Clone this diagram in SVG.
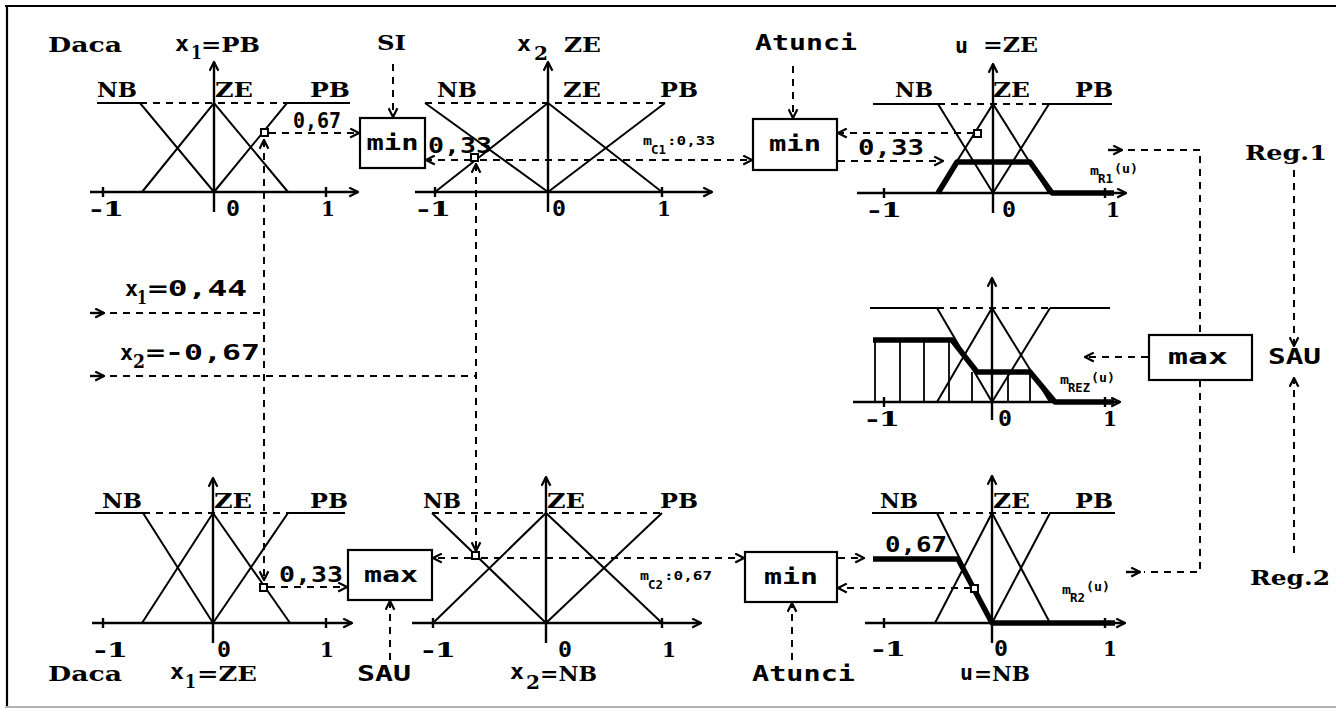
<svg xmlns="http://www.w3.org/2000/svg" width="1341" height="709" viewBox="0 0 1341 709">
  <style>
    .ax { stroke: #000; stroke-width: 2.4; fill: none; }
    .mf { stroke: #000; stroke-width: 2; fill: none; }
    .dl { stroke: #000; stroke-width: 2; stroke-dasharray: 7 6; fill: none; }
    .th { stroke: #000; stroke-width: 5.5; fill: none; stroke-linejoin: round; }
    .hat { stroke: #000; stroke-width: 1.8; }
    .box { fill: #fff; stroke: #000; stroke-width: 2.2; }
    .pt { fill: #fff; stroke: #000; stroke-width: 2; }
    .ser { font-family: "DejaVu Serif", "Liberation Serif", serif; font-weight: bold; font-size: 21px; fill: #000; }
    .san { font-family: "DejaVu Sans Mono", "DejaVu Sans", monospace; font-weight: bold; font-size: 21px; fill: #000; }
    .sm { font-family: "DejaVu Sans Mono", monospace; font-weight: bold; font-size: 12px; fill: #000; }
    .sub { font-family: "DejaVu Serif", serif; font-weight: bold; font-size: 18px; fill: #000; }
  </style>
  <defs>
    <marker id="ah" viewBox="0 0 10 10" refX="9" refY="5" markerWidth="11" markerHeight="11" markerUnits="userSpaceOnUse" orient="auto-start-reverse">
      <path d="M1,1 L9,5 L1,9" fill="none" stroke="#000" stroke-width="2"/>
    </marker>
  </defs>

  <!-- frame -->
  <g id="frame">
    <line x1="5" y1="6" x2="1336" y2="6" stroke="#000" stroke-width="2.2"/>
    <line x1="7" y1="5" x2="7" y2="706" stroke="#000" stroke-width="2.2"/>
    <line x1="5" y1="707" x2="1336" y2="707" stroke="#999" stroke-width="1.5"/>
  </g>

  <!-- rule 1, x1 = PB -->
  <g id="chart-x1-pb">
    <line class="ax" x1="90" y1="192" x2="358" y2="192" marker-end="url(#ah)"/>
    <line class="ax" x1="214" y1="212" x2="214" y2="62" marker-end="url(#ah)"/>
    <line class="ax" x1="103" y1="187" x2="103" y2="197"/>
    <line class="ax" x1="326" y1="187" x2="326" y2="197"/>
    <polyline class="mf" points="97,103 140,103 214,192"/>
    <polyline class="mf" points="142,192 214,103 288,192"/>
    <polyline class="mf" points="214,192 287,103 350,103"/>
    <line class="dl" x1="140" y1="103" x2="287" y2="103"/>
    <rect class="pt" x="261" y="129" width="7" height="7"/>
    <text class="ser" x="97" y="97" textLength="40" lengthAdjust="spacingAndGlyphs">NB</text>
    <text class="ser" x="215" y="97" textLength="38" lengthAdjust="spacingAndGlyphs">ZE</text>
    <text class="ser" x="310" y="97" textLength="40" lengthAdjust="spacingAndGlyphs">PB</text>
    <text class="ser" x="90" y="216" textLength="34" lengthAdjust="spacingAndGlyphs">-1</text>
    <text class="san" x="226" y="216" textLength="14" lengthAdjust="spacingAndGlyphs">0</text>
    <text class="ser" x="321" y="216" textLength="14" lengthAdjust="spacingAndGlyphs">1</text>
    <text class="ser" x="48" y="52" textLength="74" lengthAdjust="spacingAndGlyphs">Daca</text>
    <text class="san" x="175" y="51" textLength="14" lengthAdjust="spacingAndGlyphs">x</text>
    <text class="sub" x="191" y="59" textLength="11" lengthAdjust="spacingAndGlyphs">1</text>
    <text class="ser" x="201" y="52" textLength="59" lengthAdjust="spacingAndGlyphs">=PB</text>
    <text class="san" x="293" y="128" textLength="48" lengthAdjust="spacingAndGlyphs">0,67</text>
  </g>

  <!-- rule 1, x2 = ZE -->
  <g id="chart-x2-ze">
    <line class="ax" x1="415" y1="192" x2="712" y2="192" marker-end="url(#ah)"/>
    <line class="ax" x1="548" y1="212" x2="548" y2="62" marker-end="url(#ah)"/>
    <line class="ax" x1="435" y1="187" x2="435" y2="197"/>
    <line class="ax" x1="662" y1="187" x2="662" y2="197"/>
    <polyline class="mf" points="425,103 548,192"/>
    <polyline class="mf" points="435,192 548,103 662,192"/>
    <polyline class="mf" points="548,192 665,103"/>
    <line class="dl" x1="425" y1="103" x2="665" y2="103"/>
    <rect class="pt" x="471" y="154" width="7" height="7"/>
    <text class="ser" x="437" y="97" textLength="40" lengthAdjust="spacingAndGlyphs">NB</text>
    <text class="ser" x="563" y="97" textLength="38" lengthAdjust="spacingAndGlyphs">ZE</text>
    <text class="ser" x="660" y="97" textLength="38" lengthAdjust="spacingAndGlyphs">PB</text>
    <text class="ser" x="417" y="216" textLength="34" lengthAdjust="spacingAndGlyphs">-1</text>
    <text class="san" x="552" y="216" textLength="14" lengthAdjust="spacingAndGlyphs">0</text>
    <text class="ser" x="657" y="216" textLength="14" lengthAdjust="spacingAndGlyphs">1</text>
    <text class="san" x="517" y="51" textLength="14" lengthAdjust="spacingAndGlyphs">x</text>
    <text class="sub" x="534" y="60" textLength="14" lengthAdjust="spacingAndGlyphs">2</text>
    <text class="ser" x="564" y="52" textLength="37" lengthAdjust="spacingAndGlyphs">ZE</text>
    <text class="san" x="428" y="153" textLength="64" lengthAdjust="spacingAndGlyphs">0,33</text>
    <text class="sm" x="643" y="145" textLength="9" lengthAdjust="spacingAndGlyphs">m</text>
    <text class="sm" x="651" y="154" textLength="15" lengthAdjust="spacingAndGlyphs">C1</text>
    <text class="sm" x="667" y="145" textLength="48" lengthAdjust="spacingAndGlyphs">:0,33</text>
  </g>

  <!-- rule 1, u = ZE -->
  <g id="chart-u-ze">
    <line class="ax" x1="857" y1="193" x2="1126" y2="193" marker-end="url(#ah)"/>
    <line class="ax" x1="993" y1="213" x2="993" y2="64" marker-end="url(#ah)"/>
    <line class="ax" x1="884" y1="188" x2="884" y2="198"/>
    <line class="ax" x1="1105" y1="188" x2="1105" y2="198"/>
    <polyline class="mf" points="873,104 938,104 993,193"/>
    <polyline class="mf" points="937,193 993,104 1049,193"/>
    <polyline class="mf" points="993,193 1049,104 1112,104"/>
    <line class="dl" x1="938" y1="104" x2="1049" y2="104"/>
    <polyline class="th" points="938,193 957,162 1030,162 1052,193 1114,193"/>
    <rect class="pt" x="974" y="130" width="7" height="7"/>
    <text class="ser" x="895" y="97" textLength="38" lengthAdjust="spacingAndGlyphs">NB</text>
    <text class="ser" x="993" y="97" textLength="37" lengthAdjust="spacingAndGlyphs">ZE</text>
    <text class="ser" x="1075" y="97" textLength="38" lengthAdjust="spacingAndGlyphs">PB</text>
    <text class="ser" x="868" y="217" textLength="34" lengthAdjust="spacingAndGlyphs">-1</text>
    <text class="san" x="1002" y="217" textLength="14" lengthAdjust="spacingAndGlyphs">0</text>
    <text class="ser" x="1106" y="217" textLength="14" lengthAdjust="spacingAndGlyphs">1</text>
    <text class="san" x="955" y="53" textLength="13" lengthAdjust="spacingAndGlyphs">u</text>
    <text class="ser" x="983" y="52" textLength="55" lengthAdjust="spacingAndGlyphs">=ZE</text>
    <text class="san" x="858" y="155" textLength="66" lengthAdjust="spacingAndGlyphs">0,33</text>
    <text class="sm" x="1090" y="175" textLength="9" lengthAdjust="spacingAndGlyphs">m</text>
    <text class="sm" x="1098" y="183" textLength="15" lengthAdjust="spacingAndGlyphs">R1</text>
    <text class="sm" x="1114" y="173" textLength="24" lengthAdjust="spacingAndGlyphs">(u)</text>
  </g>

  <!-- aggregated result -->
  <g id="chart-result">
    <line class="ax" x1="853" y1="402" x2="1120" y2="402" marker-end="url(#ah)"/>
    <line class="ax" x1="992" y1="420" x2="992" y2="278" marker-end="url(#ah)"/>
    <line class="ax" x1="884" y1="397" x2="884" y2="407"/>
    <line class="ax" x1="1105" y1="397" x2="1105" y2="407"/>
    <line class="mf" x1="870" y1="308" x2="937" y2="308"/>
    <line class="dl" x1="937" y1="308" x2="1050" y2="308"/>
    <line class="mf" x1="1050" y1="308" x2="1110" y2="308"/>
    <polyline class="mf" points="937,308 992,402"/>
    <polyline class="mf" points="937,402 992,308 1050,402"/>
    <polyline class="mf" points="992,402 1050,308"/>
    <g class="hat">
      <line x1="875" y1="340" x2="875" y2="402"/>
      <line x1="900" y1="340" x2="900" y2="402"/>
      <line x1="924" y1="340" x2="924" y2="402"/>
      <line x1="949" y1="340" x2="949" y2="402"/>
      <line x1="972" y1="372" x2="972" y2="402"/>
      <line x1="1008" y1="372" x2="1008" y2="402"/>
      <line x1="1030" y1="372" x2="1030" y2="402"/>
    </g>
    <polyline class="th" points="873,340 952,340 977,372 1030,372 1055,402 1114,402"/>
    <text class="ser" x="866" y="426" textLength="34" lengthAdjust="spacingAndGlyphs">-1</text>
    <text class="san" x="998" y="426" textLength="14" lengthAdjust="spacingAndGlyphs">0</text>
    <text class="ser" x="1103" y="426" textLength="14" lengthAdjust="spacingAndGlyphs">1</text>
    <text class="sm" x="1060" y="384" textLength="9" lengthAdjust="spacingAndGlyphs">m</text>
    <text class="sm" x="1068" y="392" textLength="22" lengthAdjust="spacingAndGlyphs">REZ</text>
    <text class="sm" x="1091" y="382" textLength="24" lengthAdjust="spacingAndGlyphs">(u)</text>
  </g>

  <!-- rule 2, x1 = ZE -->
  <g id="chart-x1-ze">
    <line class="ax" x1="92" y1="623" x2="352" y2="623" marker-end="url(#ah)"/>
    <line class="ax" x1="213" y1="643" x2="213" y2="478" marker-end="url(#ah)"/>
    <line class="ax" x1="103" y1="618" x2="103" y2="628"/>
    <line class="ax" x1="326" y1="618" x2="326" y2="628"/>
    <polyline class="mf" points="95,513 143,513 213,623"/>
    <polyline class="mf" points="142,623 213,513 290,623"/>
    <polyline class="mf" points="213,623 288,513 345,513"/>
    <line class="dl" x1="143" y1="513" x2="288" y2="513"/>
    <rect class="pt" x="260" y="584" width="7" height="7"/>
    <text class="ser" x="102" y="508" textLength="40" lengthAdjust="spacingAndGlyphs">NB</text>
    <text class="ser" x="214" y="508" textLength="38" lengthAdjust="spacingAndGlyphs">ZE</text>
    <text class="ser" x="310" y="508" textLength="38" lengthAdjust="spacingAndGlyphs">PB</text>
    <text class="ser" x="94" y="657" textLength="34" lengthAdjust="spacingAndGlyphs">-1</text>
    <text class="san" x="217" y="657" textLength="14" lengthAdjust="spacingAndGlyphs">0</text>
    <text class="ser" x="320" y="657" textLength="14" lengthAdjust="spacingAndGlyphs">1</text>
    <text class="ser" x="48" y="681" textLength="74" lengthAdjust="spacingAndGlyphs">Daca</text>
    <text class="san" x="170" y="679" textLength="14" lengthAdjust="spacingAndGlyphs">x</text>
    <text class="sub" x="185" y="688" textLength="11" lengthAdjust="spacingAndGlyphs">1</text>
    <text class="ser" x="197" y="681" textLength="60" lengthAdjust="spacingAndGlyphs">=ZE</text>
    <text class="san" x="279" y="582" textLength="64" lengthAdjust="spacingAndGlyphs">0,33</text>
  </g>

  <!-- rule 2, x2 = NB -->
  <g id="chart-x2-nb">
    <line class="ax" x1="412" y1="623" x2="701" y2="623" marker-end="url(#ah)"/>
    <line class="ax" x1="546" y1="643" x2="546" y2="477" marker-end="url(#ah)"/>
    <line class="ax" x1="433" y1="618" x2="433" y2="628"/>
    <line class="ax" x1="662" y1="618" x2="662" y2="628"/>
    <polyline class="mf" points="432,513 546,623"/>
    <polyline class="mf" points="433,623 546,513 662,623"/>
    <polyline class="mf" points="546,623 662,513"/>
    <line class="dl" x1="432" y1="513" x2="662" y2="513"/>
    <rect class="pt" x="472" y="552" width="7" height="7"/>
    <text class="ser" x="423" y="508" textLength="38" lengthAdjust="spacingAndGlyphs">NB</text>
    <text class="ser" x="547" y="508" textLength="38" lengthAdjust="spacingAndGlyphs">ZE</text>
    <text class="ser" x="660" y="508" textLength="38" lengthAdjust="spacingAndGlyphs">PB</text>
    <text class="ser" x="422" y="657" textLength="34" lengthAdjust="spacingAndGlyphs">-1</text>
    <text class="san" x="558" y="657" textLength="14" lengthAdjust="spacingAndGlyphs">0</text>
    <text class="ser" x="662" y="657" textLength="14" lengthAdjust="spacingAndGlyphs">1</text>
    <text class="san" x="510" y="679" textLength="14" lengthAdjust="spacingAndGlyphs">x</text>
    <text class="sub" x="526" y="689" textLength="14" lengthAdjust="spacingAndGlyphs">2</text>
    <text class="ser" x="540" y="681" textLength="57" lengthAdjust="spacingAndGlyphs">=NB</text>
    <text class="sm" x="640" y="580" textLength="9" lengthAdjust="spacingAndGlyphs">m</text>
    <text class="sm" x="648" y="589" textLength="15" lengthAdjust="spacingAndGlyphs">C2</text>
    <text class="sm" x="664" y="580" textLength="48" lengthAdjust="spacingAndGlyphs">:0,67</text>
  </g>

  <!-- rule 2, u = NB -->
  <g id="chart-u-nb">
    <line class="ax" x1="865" y1="623" x2="1125" y2="623" marker-end="url(#ah)"/>
    <line class="ax" x1="992" y1="643" x2="992" y2="476" marker-end="url(#ah)"/>
    <line class="ax" x1="884" y1="618" x2="884" y2="628"/>
    <line class="ax" x1="1105" y1="618" x2="1105" y2="628"/>
    <polyline class="mf" points="872,513 937,513 992,623"/>
    <polyline class="mf" points="935,623 992,513 1050,623"/>
    <polyline class="mf" points="992,623 1050,513 1115,513"/>
    <line class="dl" x1="937" y1="513" x2="1050" y2="513"/>
    <polyline class="th" points="873,559 958,559 992,623 1115,623"/>
    <rect class="pt" x="971" y="585" width="7" height="7"/>
    <text class="ser" x="880" y="508" textLength="38" lengthAdjust="spacingAndGlyphs">NB</text>
    <text class="ser" x="993" y="508" textLength="37" lengthAdjust="spacingAndGlyphs">ZE</text>
    <text class="ser" x="1075" y="508" textLength="38" lengthAdjust="spacingAndGlyphs">PB</text>
    <text class="ser" x="872" y="656" textLength="34" lengthAdjust="spacingAndGlyphs">-1</text>
    <text class="san" x="994" y="656" textLength="14" lengthAdjust="spacingAndGlyphs">0</text>
    <text class="ser" x="1103" y="656" textLength="14" lengthAdjust="spacingAndGlyphs">1</text>
    <text class="san" x="960" y="680" textLength="13" lengthAdjust="spacingAndGlyphs">u</text>
    <text class="ser" x="974" y="681" textLength="56" lengthAdjust="spacingAndGlyphs">=NB</text>
    <text class="san" x="885" y="552" textLength="62" lengthAdjust="spacingAndGlyphs">0,67</text>
    <text class="sm" x="1062" y="594" textLength="9" lengthAdjust="spacingAndGlyphs">m</text>
    <text class="sm" x="1070" y="602" textLength="15" lengthAdjust="spacingAndGlyphs">R2</text>
    <text class="sm" x="1086" y="591" textLength="24" lengthAdjust="spacingAndGlyphs">(u)</text>
  </g>

  <!-- operator boxes -->
  <g id="min-rule1-in">
    <rect class="box" x="360" y="118" width="65" height="50"/>
    <text class="san" x="392.5" y="150" text-anchor="middle" textLength="52" lengthAdjust="spacingAndGlyphs">min</text>
  </g>
  <g id="min-rule1-out">
    <rect class="box" x="753" y="119" width="84" height="51"/>
    <text class="san" x="795" y="151" text-anchor="middle" textLength="52" lengthAdjust="spacingAndGlyphs">min</text>
  </g>
  <g id="max-aggregate">
    <rect class="box" x="1149" y="335" width="103" height="45"/>
    <text class="san" x="1198" y="364" text-anchor="middle" textLength="60" lengthAdjust="spacingAndGlyphs">max</text>
  </g>
  <g id="max-rule2-in">
    <rect class="box" x="348" y="550" width="84" height="50"/>
    <text class="san" x="391" y="582" text-anchor="middle" textLength="54" lengthAdjust="spacingAndGlyphs">max</text>
  </g>
  <g id="min-rule2-out">
    <rect class="box" x="745" y="552" width="92" height="50"/>
    <text class="san" x="791" y="584" text-anchor="middle" textLength="54" lengthAdjust="spacingAndGlyphs">min</text>
  </g>

  <!-- free labels -->
  <g id="labels">
    <text class="ser" x="377" y="50" textLength="29" lengthAdjust="spacingAndGlyphs">SI</text>
    <text class="san" x="755" y="50" textLength="102" lengthAdjust="spacingAndGlyphs">Atunci</text>
    <text class="san" x="752" y="681" textLength="103" lengthAdjust="spacingAndGlyphs">Atunci</text>
    <text class="san" x="357" y="681" textLength="54" lengthAdjust="spacingAndGlyphs">SAU</text>
    <text class="san" x="1268" y="364" textLength="53" lengthAdjust="spacingAndGlyphs">SAU</text>
    <text class="ser" x="1245" y="160" textLength="82" lengthAdjust="spacingAndGlyphs">Reg.1</text>
    <text class="ser" x="1250" y="585" textLength="80" lengthAdjust="spacingAndGlyphs">Reg.2</text>
    <text class="san" x="125" y="296" textLength="13" lengthAdjust="spacingAndGlyphs">x</text>
    <text class="sub" x="137" y="304" textLength="10" lengthAdjust="spacingAndGlyphs">1</text>
    <text class="san" x="148" y="296" textLength="99" lengthAdjust="spacingAndGlyphs">=0,44</text>
    <text class="san" x="120" y="360" textLength="13" lengthAdjust="spacingAndGlyphs">x</text>
    <text class="sub" x="133" y="368" textLength="12" lengthAdjust="spacingAndGlyphs">2</text>
    <text class="san" x="146" y="360" textLength="114" lengthAdjust="spacingAndGlyphs">=-0,67</text>
  </g>

  <!-- connectors -->
  <g id="connectors">
    <!-- crisp inputs -->
    <line class="ax" x1="90" y1="313" x2="104" y2="313" stroke-width="1.8" marker-end="url(#ah)"/>
    <polyline class="dl" points="110,313 264,313"/>
    <line class="ax" x1="90" y1="376" x2="104" y2="376" stroke-width="1.8" marker-end="url(#ah)"/>
    <polyline class="dl" points="110,376 476,376"/>
    <line class="dl" x1="264" y1="140" x2="264" y2="580" marker-start="url(#ah)" marker-end="url(#ah)"/>
    <line class="dl" x1="476" y1="164" x2="476" y2="551" marker-start="url(#ah)" marker-end="url(#ah)"/>

    <!-- rule 1 -->
    <line class="dl" x1="269" y1="133" x2="359" y2="133" marker-end="url(#ah)"/>
    <line class="dl" x1="393" y1="64" x2="393" y2="117" marker-end="url(#ah)"/>
    <line class="dl" x1="471" y1="160" x2="426" y2="160" marker-end="url(#ah)"/>
    <line class="dl" x1="480" y1="160" x2="752" y2="160" marker-end="url(#ah)"/>
    <line class="dl" x1="793" y1="66" x2="793" y2="118" marker-end="url(#ah)"/>
    <line class="dl" x1="974" y1="133" x2="838" y2="133" marker-end="url(#ah)"/>
    <line class="dl" x1="838" y1="161" x2="943" y2="161" marker-end="url(#ah)"/>

    <!-- aggregation -->
    <line class="ax" x1="1108" y1="150" x2="1122" y2="150" stroke-width="1.8" marker-end="url(#ah)"/>
    <polyline class="dl" points="1128,150 1200,150 1200,335"/>
    <polyline class="dl" points="1200,380 1200,572 1144,572"/>
    <line class="ax" x1="1126" y1="572" x2="1140" y2="572" stroke-width="1.8" marker-end="url(#ah)"/>
    <line class="dl" x1="1148" y1="357" x2="1085" y2="357" marker-end="url(#ah)"/>
    <line class="dl" x1="1294" y1="170" x2="1294" y2="346" marker-end="url(#ah)"/>
    <line class="dl" x1="1294" y1="553" x2="1294" y2="378" marker-end="url(#ah)"/>

    <!-- rule 2 -->
    <line class="dl" x1="268" y1="587" x2="347" y2="587" marker-end="url(#ah)"/>
    <line class="dl" x1="390" y1="660" x2="390" y2="601" marker-end="url(#ah)"/>
    <line class="dl" x1="471" y1="558" x2="433" y2="558" marker-end="url(#ah)"/>
    <line class="dl" x1="481" y1="558" x2="744" y2="558" marker-end="url(#ah)"/>
    <line class="dl" x1="792" y1="660" x2="792" y2="603" marker-end="url(#ah)"/>
    <line class="dl" x1="838" y1="558" x2="864" y2="558" marker-end="url(#ah)"/>
    <line class="dl" x1="971" y1="588" x2="838" y2="588" marker-end="url(#ah)"/>
  </g>
</svg>
